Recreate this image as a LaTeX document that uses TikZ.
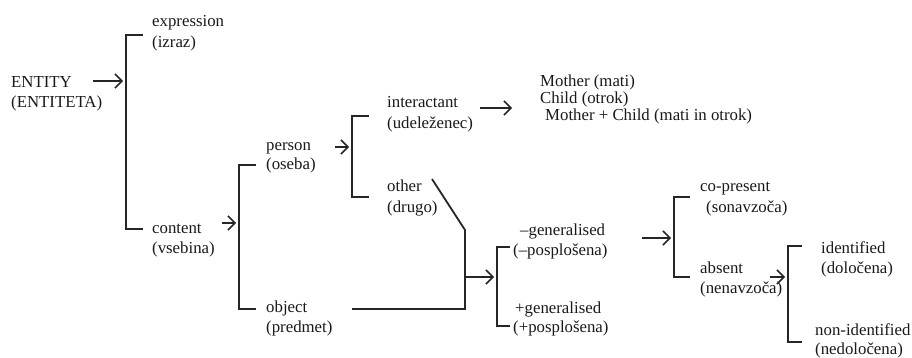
\documentclass[tikz,border=0pt]{standalone}
\usepackage{fontspec}
\setmainfont{Liberation Serif}
\usetikzlibrary{arrows.meta}
\begin{document}
\begin{tikzpicture}[x=1pt,y=-1pt,
  lbl/.style={anchor=base west,inner sep=0pt,text=black!90,font=\fontsize{16.8}{20}\selectfont},
  brk/.style={line width=1.8pt,draw=black!85},
  arr/.style={line width=1.5pt,draw=black!85,-{Straight Barb[length=7pt,width=14pt,line width=1.5pt]}}]
\useasboundingbox (0,0) rectangle (912,358);
% texts
\node[lbl] (ent1) at (11,88) {ENTITY};
\node[lbl] (ent2) at (11,108) {(ENTITETA)};
\node[lbl] (expr1) at (152,27) {expression};
\node[lbl] (expr2) at (152,48) {(izraz)};
\node[lbl] (cont1) at (152,233) {content};
\node[lbl] (cont2) at (152,253) {(vsebina)};
\node[lbl] (pers1) at (266,151) {person};
\node[lbl] (pers2) at (266,170) {(oseba)};
\node[lbl] (obj1) at (266,312) {object};
\node[lbl] (obj2) at (266,332) {(predmet)};
\node[lbl] (int1) at (387,108) {interactant};
\node[lbl] (int2) at (387,129) {(udeleženec)};
\node[lbl] (oth1) at (387,192) {other};
\node[lbl] (oth2) at (387,212) {(drugo)};
\node[lbl] (mc1) at (540,87) {Mother (mati)};
\node[lbl] (mc2) at (540,104) {Child (otrok)};
\node[lbl] (mc3) at (545,121) {Mother + Child (mati in otrok)};
\node[lbl] (mg1) at (520,235) {–generalised};
\node[lbl] (mg2) at (513,255) {(–posplošena)};
\node[lbl] (pg1) at (515,313) {+generalised};
\node[lbl] (pg2) at (513,332) {(+posplošena)};
\node[lbl] (cop1) at (700,192) {co-present};
\node[lbl] (cop2) at (706,212) {(sonavzoča)};
\node[lbl] (abs1) at (700,273) {absent};
\node[lbl] (abs2) at (700,293) {(nenavzoča)};
\node[lbl] (idf1) at (821,253) {identified};
\node[lbl] (idf2) at (821,273) {(določena)};
\node[lbl] (nid1) at (815,335) {non-identified};
\node[lbl] (nid2) at (815,354) {(nedoločena)};
% coordinates
\coordinate (a1s) at (93,81);   \coordinate (a1e) at (123,81);
\coordinate (b1t) at (143,35);  \coordinate (b1b) at (143,229); \coordinate (b1x) at (126,0);
\coordinate (a2s) at (222,223); \coordinate (a2e) at (236,223);
\coordinate (b2t) at (256,165); \coordinate (b2b) at (256,309); \coordinate (b2x) at (239,0);
\coordinate (a3s) at (335,147); \coordinate (a3e) at (349,147);
\coordinate (b3t) at (369,116); \coordinate (b3b) at (369,197); \coordinate (b3x) at (352,0);
\coordinate (a4s) at (480,108); \coordinate (a4e) at (512,108);
\coordinate (d1) at (432,179);  \coordinate (d2) at (465,230);
\coordinate (d3) at (465,309);  \coordinate (d4) at (352,309);
\coordinate (a5s) at (465,277); \coordinate (a5e) at (494,277);
\coordinate (b4t) at (510,247); \coordinate (b4b) at (510,326); \coordinate (b4x) at (497,0);
\coordinate (a6s) at (642,238); \coordinate (a6e) at (671,238);
\coordinate (b5t) at (690,197); \coordinate (b5b) at (690,277); \coordinate (b5x) at (674,0);
\coordinate (a7s) at (770,277); \coordinate (a7e) at (785,277);
\coordinate (b6t) at (802,246); \coordinate (b6b) at (802,342); \coordinate (b6x) at (788,0);
% brackets
\draw[brk] (b1t) -- (b1t -| b1x) -- (b1b -| b1x) -- (b1b);
\draw[brk] (b2t) -- (b2t -| b2x) -- (b2b -| b2x) -- (b2b);
\draw[brk] (b3t) -- (b3t -| b3x) -- (b3b -| b3x) -- (b3b);
\draw[brk] (b4t) -- (b4t -| b4x) -- (b4b -| b4x) -- (b4b);
\draw[brk] (b5t) -- (b5t -| b5x) -- (b5b -| b5x) -- (b5b);
\draw[brk] (b6t) -- (b6t -| b6x) -- (b6b -| b6x) -- (b6b);
\draw[brk,line join=miter] (d1) -- (d2) -- (d3) -- (d4);
% arrows
\draw[arr] (a1s) -- (a1e);
\draw[arr] (a2s) -- (a2e);
\draw[arr] (a3s) -- (a3e);
\draw[arr] (a4s) -- (a4e);
\draw[arr] (a5s) -- (a5e);
\draw[arr] (a6s) -- (a6e);
\draw[arr] (a7s) -- (a7e);
\end{tikzpicture}
\end{document}
